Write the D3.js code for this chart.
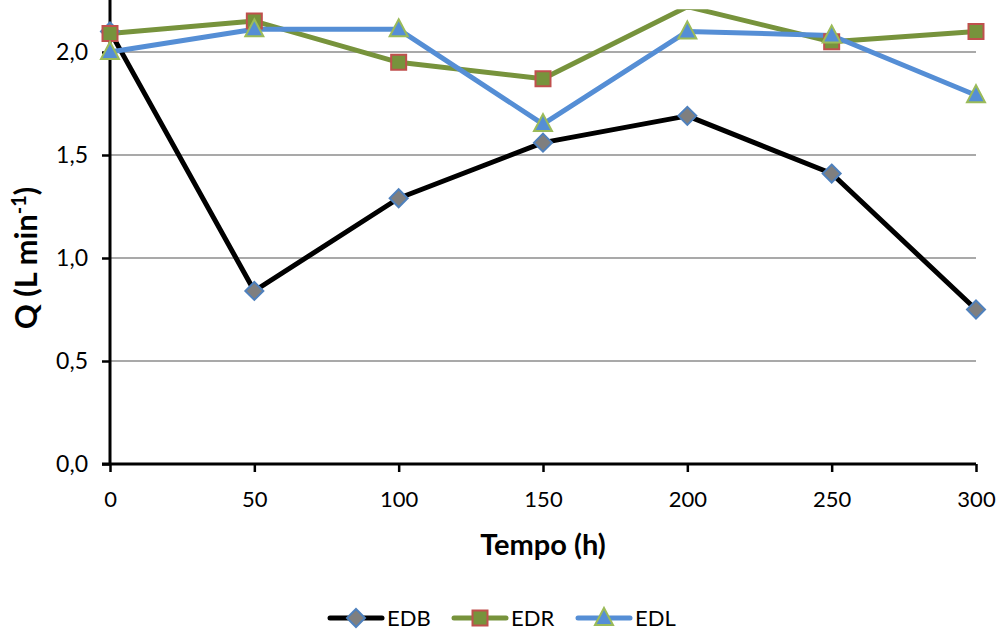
<!DOCTYPE html>
<html>
<head>
<meta charset="utf-8">
<script src="https://cdn.jsdelivr.net/npm/d3@7"></script>
<style>
  html, body { margin: 0; padding: 0; background: #fff; }
  svg { display: block; font-family: Lato, "Open Sans", "Liberation Sans", sans-serif; }
</style>
</head>
<body>
<svg id="chart" width="1003" height="631"></svg>
<script>
// Flow rate over time for three electrodialysis runs
const tempo = [0, 50, 100, 150, 200, 250, 300];
const edb = [2.10, 0.84, 1.29, 1.56, 1.69, 1.41, 0.75];
const edr = [2.09, 2.15, 1.95, 1.87, 2.22, 2.05, 2.10];
const edl = [2.00, 2.11, 2.11, 1.65, 2.10, 2.08, 1.79];
const xTicks = [0, 50, 100, 150, 200, 250, 300];
const yTicks = [0, 0.5, 1.0, 1.5, 2.0];
const seriesNames = ["EDB", "EDR", "EDL"];

const svg = d3.select("#chart");
const plotLeft = 110, plotRight = 976, plotTop = 0, plotBottom = 464;

const x = d3.scaleLinear().domain([0, 300]).range([plotLeft, plotRight]);
const y = d3.scaleLinear().domain([0, 2.25]).range([plotBottom, plotTop + 0.5]);
// the plotted values are shown only up to this level
const yShown = 2.2;

const fmt = v => d3.format(".1f")(v).replace(".", ",");
const fontFam = "Lato, 'Open Sans', sans-serif";

// horizontal gridlines
svg.append("g")
  .selectAll("line")
  .data(yTicks.filter(v => v > 0))
  .join("line")
  .attr("x1", plotLeft).attr("x2", plotRight)
  .attr("y1", d => y(d)).attr("y2", d => y(d))
  .attr("stroke", "#8c8c8c").attr("stroke-width", 1.5);

// y axis
const yAxis = svg.append("g")
  .attr("transform", `translate(${plotLeft},0)`)
  .call(d3.axisLeft(y).tickValues(yTicks).tickFormat(fmt).tickSize(8).tickPadding(14));
yAxis.select(".domain").attr("stroke", "#000").attr("stroke-width", 3)
  .attr("d", `M0,${plotTop}V${plotBottom}`);
yAxis.selectAll(".tick line").attr("stroke", "#000").attr("stroke-width", 2.5);
yAxis.selectAll(".tick text").attr("font-size", 23).attr("fill", "#000")
  .attr("font-family", fontFam);

// x axis
const xAxis = svg.append("g")
  .attr("transform", `translate(0,${plotBottom})`)
  .call(d3.axisBottom(x).tickValues(xTicks).tickFormat(d3.format("d")).tickSize(8).tickPadding(19));
xAxis.select(".domain").attr("stroke", "#000").attr("stroke-width", 3)
  .attr("d", `M${plotLeft - 8},0H${plotRight}`);
xAxis.selectAll(".tick line").attr("stroke", "#000").attr("stroke-width", 2.5);
xAxis.selectAll(".tick text").attr("font-size", 22).attr("fill", "#000")
  .attr("font-family", fontFam);

// axis titles
svg.append("text")
  .attr("x", (plotLeft + plotRight) / 2).attr("y", 555)
  .attr("text-anchor", "middle")
  .attr("font-size", 29).attr("font-weight", "bold")
  .text("Tempo (h)");

const yTitle = svg.append("text")
  .attr("transform", `translate(37,258) rotate(-90)`)
  .attr("text-anchor", "middle")
  .attr("font-size", 31).attr("font-weight", "bold");
yTitle.append("tspan").text("Q (L min");
yTitle.append("tspan").attr("dy", -11).attr("font-size", 20).text("-1");
yTitle.append("tspan").attr("dy", 11).text(")");

// clip to the plot area
svg.append("clipPath").attr("id", "plotClip")
  .append("rect").attr("x", plotLeft - 20).attr("y", y(yShown) - 1.5)
  .attr("width", plotRight - plotLeft + 40).attr("height", plotBottom - y(yShown) + 20);

const line = d3.line().x((d, i) => x(tempo[i])).y(d => y(d));

const series = [
  { name: seriesNames[0], values: edb, stroke: "#000000", shape: "diamond", fill: "#7f7f7f", mstroke: "#4f81bd" },
  { name: seriesNames[1], values: edr, stroke: "#77933c", shape: "square", fill: "#77933c", mstroke: "#c0504d" },
  { name: seriesNames[2], values: edl, stroke: "#558ed5", shape: "triangle", fill: "#558ed5", mstroke: "#9bbb59" }
];

function markerPath(shape) {
  if (shape === "diamond") return "M0,-9L9,0L0,9L-9,0Z";
  if (shape === "square") return "M-7.5,-7.5H7.5V7.5H-7.5Z";
  return "M0,-10L9,7L-9,7Z";
}

const plot = svg.append("g").attr("clip-path", "url(#plotClip)");
series.forEach(s => {
  plot.append("path")
    .attr("d", line(s.values))
    .attr("fill", "none")
    .attr("stroke", s.stroke)
    .attr("stroke-width", 5)
    .attr("stroke-linejoin", "round");
});
series.forEach(s => {
  plot.append("g")
    .selectAll("path")
    .data(s.values.map((v, i) => ({ t: tempo[i], v })).filter(d => d.v <= yShown))
    .join("path")
    .attr("transform", d => `translate(${x(d.t)},${y(d.v)})`)
    .attr("d", markerPath(s.shape))
    .attr("fill", s.fill)
    .attr("stroke", s.mstroke)
    .attr("stroke-width", 2);
});

// legend
const legendX = [330, 454, 578];
const legendY = 618;
series.forEach((s, i) => {
  const g = svg.append("g").attr("transform", `translate(${legendX[i]},${legendY})`);
  g.append("line").attr("x1", 0).attr("x2", 52).attr("y1", 0).attr("y2", 0)
    .attr("stroke", s.stroke).attr("stroke-width", 5).attr("stroke-linecap", "round");
  g.append("path").attr("transform", "translate(26,0)")
    .attr("d", markerPath(s.shape))
    .attr("fill", s.fill).attr("stroke", s.mstroke).attr("stroke-width", 2);
  g.append("text").attr("x", 57).attr("y", 8)
    .attr("font-size", 22).attr("fill", "#000").attr("font-family", fontFam).text(s.name);
});
</script>
</body>
</html>
